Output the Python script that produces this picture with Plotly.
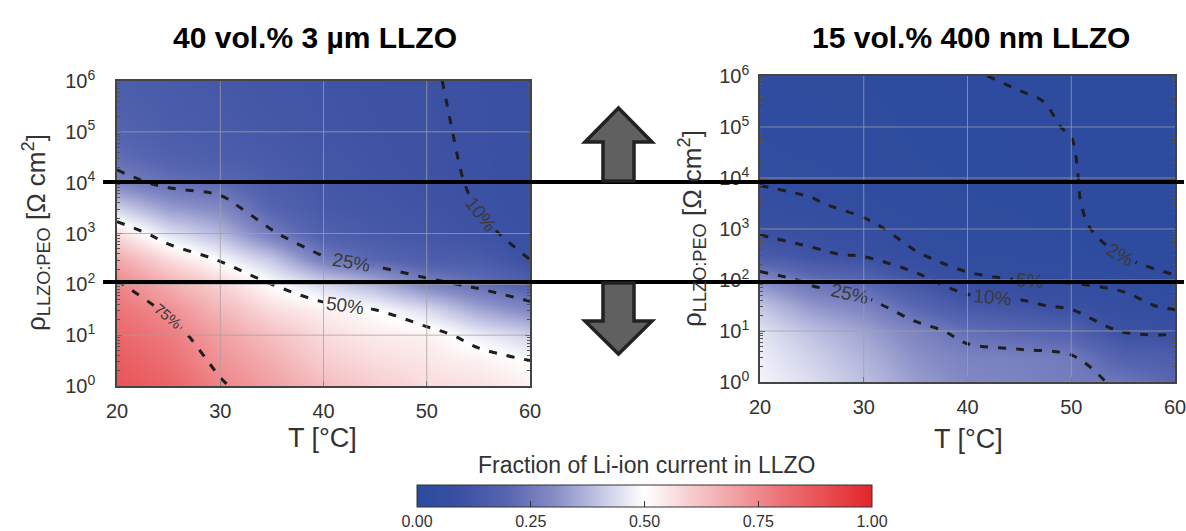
import numpy as np
import plotly.graph_objects as go

# ---------------- data ----------------
T_C = [20, 25, 30, 35, 40, 45, 50, 55, 60]
log10_rho = [0, 0.5, 1.0, 1.5, 2.0, 2.5, 3.0, 3.5, 4.0, 4.5, 5.0, 5.5, 6.0]

# fraction of Li-ion current in LLZO, one list per temperature column (rows: log10 rho 0 -> 6)
left_cols = {
    20: [0.88, 0.86, 0.83, 0.80, 0.76, 0.68, 0.57, 0.42, 0.28, 0.22, 0.19, 0.17, 0.16],
    25: [0.84, 0.81, 0.78, 0.74, 0.67, 0.57, 0.45, 0.33, 0.23, 0.18, 0.155, 0.148, 0.145],
    30: [0.76, 0.73, 0.70, 0.65, 0.59, 0.49, 0.38, 0.29, 0.21, 0.16, 0.145, 0.138, 0.135],
    35: [0.70, 0.67, 0.63, 0.57, 0.50, 0.40, 0.26, 0.19, 0.16, 0.142, 0.132, 0.128, 0.125],
    40: [0.64, 0.60, 0.57, 0.53, 0.43, 0.26, 0.17, 0.14, 0.13, 0.124, 0.12, 0.118, 0.115],
    45: [0.60, 0.57, 0.54, 0.50, 0.37, 0.20, 0.14, 0.125, 0.118, 0.114, 0.112, 0.11, 0.108],
    50: [0.57, 0.55, 0.53, 0.44, 0.28, 0.16, 0.125, 0.113, 0.108, 0.106, 0.105, 0.104, 0.103],
    55: [0.56, 0.53, 0.47, 0.35, 0.23, 0.15, 0.108, 0.099, 0.097, 0.096, 0.095, 0.094, 0.093],
    60: [0.53, 0.50, 0.42, 0.29, 0.17, 0.098, 0.088, 0.085, 0.084, 0.083, 0.083, 0.082, 0.082],
}
right_cols = {
    20: [0.48, 0.47, 0.45, 0.40, 0.30, 0.15, 0.085, 0.062, 0.045, 0.038, 0.034, 0.032, 0.030],
    25: [0.44, 0.42, 0.39, 0.32, 0.23, 0.11, 0.075, 0.053, 0.040, 0.034, 0.031, 0.029, 0.028],
    30: [0.39, 0.37, 0.34, 0.28, 0.19, 0.092, 0.058, 0.040, 0.033, 0.029, 0.027, 0.026, 0.025],
    35: [0.33, 0.31, 0.28, 0.20, 0.12, 0.052, 0.038, 0.030, 0.027, 0.025, 0.024, 0.023, 0.022],
    40: [0.29, 0.275, 0.225, 0.135, 0.056, 0.037, 0.030, 0.026, 0.024, 0.023, 0.022, 0.021, 0.0205],
    45: [0.28, 0.27, 0.20, 0.115, 0.050, 0.034, 0.027, 0.024, 0.022, 0.021, 0.0208, 0.0206, 0.0192],
    50: [0.26, 0.255, 0.18, 0.085, 0.045, 0.029, 0.0215, 0.0207, 0.0205, 0.0203, 0.0198, 0.0193, 0.0185],
    55: [0.245, 0.18, 0.095, 0.062, 0.040, 0.019, 0.0175, 0.017, 0.0168, 0.0165, 0.016, 0.0158, 0.0155],
    60: [0.20, 0.16, 0.09, 0.042, 0.021, 0.016, 0.015, 0.0148, 0.0146, 0.0144, 0.0142, 0.014, 0.014],
}
left_levels = [0.10, 0.25, 0.50, 0.75]
right_levels = [0.02, 0.05, 0.10, 0.25]

left_title = "40 vol.% 3 µm LLZO"
right_title = "15 vol.% 400 nm LLZO"
cbar_title = "Fraction of Li-ion current in LLZO"
x_ticks = [20, 30, 40, 50, 60]
y_decades = [0, 1, 2, 3, 4, 5, 6]
y_ticktext = ["10<sup>%d</sup>" % d for d in y_decades]
cbar_ticks = [0, 0.25, 0.5, 0.75, 1.0]
cbar_ticktext = ["0.00", "0.25", "0.50", "0.75", "1.00"]

# ---------------- helpers ----------------
W, H = 1186, 531
def px(x):
    return x / W
def py(y):
    return 1 - y / H

z_left = np.array([left_cols[t] for t in T_C]).T.tolist()
z_right = np.array([right_cols[t] for t in T_C]).T.tolist()

FONT = "Liberation Sans, Arial, sans-serif"
TXT = "#333333"

colorscale = [
    [0.0, "#2A4A9E"], [0.1, "#3C51A3"], [0.2, "#5866B1"], [0.3, "#858BC5"],
    [0.4, "#C3C5E4"], [0.5, "#FFFFFF"], [0.6, "#F7CDCF"], [0.7, "#F1A0A3"],
    [0.8, "#EC7276"], [0.9, "#E74D51"], [1.0, "#E2252A"],
]

fig = go.Figure()

panels = [
    ("x", "y", z_left, left_levels),
    ("x2", "y2", z_right, right_levels),
]
for xa, ya, z, levels in panels:
    fig.add_trace(go.Heatmap(x=T_C, y=log10_rho, z=z, coloraxis="coloraxis",
                             zsmooth="best", xaxis=xa, yaxis=ya, hoverinfo="skip"))
    for lv in levels:
        lab_size = 15 if lv >= 0.75 else 19
        fig.add_trace(go.Contour(
            x=T_C, y=log10_rho, z=z, xaxis=xa, yaxis=ya,
            autocontour=False,
            contours=dict(start=lv, end=lv, size=1, coloring="none", showlabels=True,
                          labelformat=".0%",
                          labelfont=dict(size=lab_size, color="#3a3a3a", family=FONT)),
            line=dict(color="#1e1e1e", width=3, dash="8px,10px"),
            showscale=False, hoverinfo="skip"))

minor_vals = [d + np.log10(k) for d in range(6) for k in range(2, 10)]

def xaxis_cfg(x0, x1, anchor):
    return dict(domain=[px(x0), px(x1)], range=[20, 60], anchor=anchor, automargin=False,
                tickvals=x_ticks, ticks="inside", ticklen=5, tickcolor="#444", tickwidth=1,
                showgrid=False, zeroline=False, showline=True, linecolor="#444", linewidth=1.5,
                mirror="ticks", layer="above traces", ticklabelstandoff=6,
                ticklabeloverflow="allow",
                tickfont=dict(size=20, color=TXT, family=FONT))

def yaxis_cfg(y0, y1, anchor, standoff):
    return dict(domain=[py(y1), py(y0)], range=[0, 6], anchor=anchor, automargin=False,
                tickvals=y_decades, ticktext=y_ticktext, ticks="inside", ticklen=5,
                tickcolor="#444", tickwidth=1,
                minor=dict(tickmode="array", tickvals=minor_vals, ticks="inside", ticklen=3,
                           tickcolor="#555", showgrid=False),
                showgrid=False, zeroline=False, showline=True, linecolor="#444", linewidth=1.5,
                mirror="ticks", layer="above traces", ticklabelstandoff=standoff,
                tickfont=dict(size=20, color=TXT, family=FONT))

# plot area pixel boxes
LX0, LX1, LY0, LY1 = 117, 530, 81, 386
RX0, RX1, RY0, RY1 = 760, 1175, 76, 382

fig.update_layout(
    width=W, height=H, margin=dict(l=0, r=0, t=0, b=0, autoexpand=False),
    paper_bgcolor="white", plot_bgcolor="white", showlegend=False,
    font=dict(family=FONT, color=TXT),
    xaxis=xaxis_cfg(LX0, LX1, "y"),
    yaxis=yaxis_cfg(LY0, LY1, "x", 16),
    xaxis2=xaxis_cfg(RX0, RX1, "y2"),
    yaxis2=yaxis_cfg(RY0, RY1, "x2", 5),
    coloraxis=dict(
        cmin=0, cmax=1, colorscale=colorscale,
        colorbar=dict(
            orientation="h", x=px((417 + 872) / 2), xanchor="center",
            y=py(485), yanchor="top", len=455, lenmode="pixels",
            thickness=22, thicknessmode="pixels", xpad=0, ypad=0,
            outlinecolor="#333", outlinewidth=1,
            ticks="inside", ticklen=6, tickcolor="#333",
            tickvals=cbar_ticks, ticktext=cbar_ticktext,
            tickfont=dict(size=16, color=TXT, family=FONT),
        ),
    ),
)

# grid lines drawn above the heat maps (at the tick values)
shapes = []
for xr, yr in [("x", "y"), ("x2", "y2")]:
    for t in x_ticks[1:-1]:
        shapes.append(dict(type="line", xref=xr, yref=yr + " domain", x0=t, x1=t, y0=0, y1=1,
                           line=dict(color="rgba(160,160,160,0.75)", width=1), layer="above"))
    for d in y_decades[1:-1]:
        shapes.append(dict(type="line", xref=xr + " domain", yref=yr, x0=0, x1=1, y0=d, y1=d,
                           line=dict(color="rgba(160,160,160,0.75)", width=1), layer="above"))

# black guide lines across both panels
for yy in [182, 282]:
    shapes.append(dict(type="line", xref="paper", yref="paper", x0=px(103), x1=px(1184),
                       y0=py(yy), y1=py(yy), line=dict(color="black", width=4), layer="above"))

# up / down block arrows
def arrow_path(pts):
    return "M " + " L ".join("%.5f,%.5f" % (px(a), py(b)) for a, b in pts) + " Z"

up = [(603, 181), (603, 142), (585, 142), (618.5, 108), (652, 142), (634, 142), (634, 181)]
down = [(603, 283), (603, 321), (585, 321), (618.5, 354), (652, 321), (634, 321), (634, 283)]
for pts in (up, down):
    shapes.append(dict(type="path", xref="paper", yref="paper", path=arrow_path(pts),
                       fillcolor="#606060", line=dict(color="#222222", width=3.5), layer="above"))

fig.update_layout(shapes=shapes)

def note(text, x, y, size, color=TXT, angle=0):
    return dict(text=text, x=px(x), y=py(y), xref="paper", yref="paper", textangle=angle,
                showarrow=False, xanchor="center", yanchor="middle",
                font=dict(size=size, color=color, family=FONT))

ytitle = "ρ<sub>LLZO:PEO</sub> [Ω cm<sup>2</sup>]"
ann = [
    note("<b>%s</b>" % left_title, 315, 38, 30, "black"),
    note("<b>%s</b>" % right_title, 971, 38, 30, "black"),
    note(ytitle, 36, 233, 26, angle=-90),
    note(ytitle, 692, 229, 26, angle=-90),
    note("T [°C]", 322, 438, 27),
    note("T [°C]", 968, 439, 27),
    note(cbar_title, 646, 465, 23),
]
fig.update_layout(annotations=ann)

fig.write_html("out.html", config={"displayModeBar": False},
               post_script="document.body.style.margin='0px';document.body.style.padding='0px';")
